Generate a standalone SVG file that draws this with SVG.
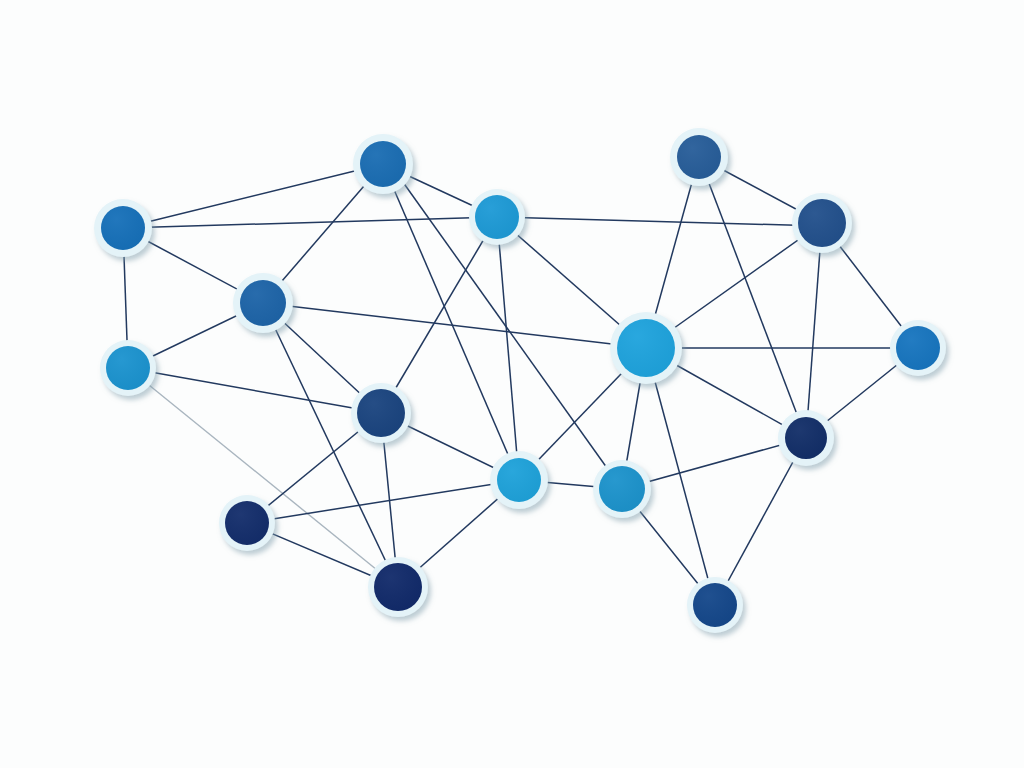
<svg xmlns="http://www.w3.org/2000/svg" width="1024" height="768" viewBox="0 0 1024 768">
<defs>
<filter id="sh" x="-50%" y="-50%" width="200%" height="200%">
<feDropShadow dx="3" dy="4" stdDeviation="2.5" flood-color="#7f9cab" flood-opacity="0.5"/>
</filter>
<radialGradient id="gl" cx="0.35" cy="0.3" r="0.8">
<stop offset="0" stop-color="#ffffff" stop-opacity="0.05"/>
<stop offset="1" stop-color="#000000" stop-opacity="0.04"/>
</radialGradient>
</defs>
<style>
.e{stroke:#22395f;stroke-width:1.5;fill:none}
.lt{stroke:#a9b5bf;stroke-width:1.4}
.halo{fill:#e4f3f8;filter:url(#sh)}
.gl{fill:url(#gl)}
</style>
<rect width="1024" height="768" fill="#fcfdfd"/>
<g id="connectors">
<line class="e" x1="383" y1="164" x2="123" y2="228"/>
<line class="e" x1="123" y1="228" x2="497" y2="217"/>
<line class="e" x1="383" y1="164" x2="497" y2="217"/>
<line class="e" x1="383" y1="164" x2="263" y2="303"/>
<line class="e" x1="383" y1="164" x2="519" y2="480"/>
<line class="e" x1="390" y1="164" x2="622" y2="489"/>
<line class="e" x1="123" y1="228" x2="263" y2="303"/>
<line class="e" x1="123" y1="228" x2="128" y2="368"/>
<line class="e" x1="497" y1="217" x2="822" y2="226"/>
<line class="e" x1="497" y1="217" x2="646" y2="348"/>
<line class="e" x1="497" y1="217" x2="381" y2="413"/>
<line class="e" x1="497" y1="217" x2="519" y2="480"/>
<line class="e" x1="699" y1="157" x2="822" y2="223"/>
<line class="e" x1="699" y1="157" x2="646" y2="348"/>
<line class="e" x1="699" y1="157" x2="806" y2="438"/>
<line class="e" x1="822" y1="223" x2="646" y2="348"/>
<line class="e" x1="822" y1="223" x2="918" y2="348"/>
<line class="e" x1="822" y1="223" x2="806" y2="438"/>
<line class="e" x1="263" y1="303" x2="646" y2="348"/>
<line class="e" x1="263" y1="303" x2="128" y2="368"/>
<line class="e" x1="263" y1="303" x2="381" y2="413"/>
<line class="e" x1="263" y1="303" x2="398" y2="587"/>
<line class="e" x1="128" y1="368" x2="381" y2="413"/>
<line class="e lt" x1="128" y1="368" x2="398" y2="587"/>
<line class="e" x1="646" y1="348" x2="918" y2="348"/>
<line class="e" x1="646" y1="348" x2="806" y2="438"/>
<line class="e" x1="646" y1="348" x2="519" y2="480"/>
<line class="e" x1="646" y1="348" x2="622" y2="489"/>
<line class="e" x1="646" y1="348" x2="715" y2="605"/>
<line class="e" x1="918" y1="348" x2="806" y2="438"/>
<line class="e" x1="806" y1="438" x2="622" y2="489"/>
<line class="e" x1="806" y1="438" x2="715" y2="605"/>
<line class="e" x1="381" y1="413" x2="519" y2="480"/>
<line class="e" x1="381" y1="413" x2="247" y2="523"/>
<line class="e" x1="381" y1="413" x2="398" y2="587"/>
<line class="e" x1="519" y1="480" x2="622" y2="489"/>
<line class="e" x1="519" y1="480" x2="247" y2="523"/>
<line class="e" x1="519" y1="480" x2="398" y2="587"/>
<line class="e" x1="622" y1="489" x2="715" y2="605"/>
<line class="e" x1="247" y1="523" x2="398" y2="587"/>
</g>
<g id="n1"><circle class="halo" cx="383" cy="164" r="30"/><circle cx="383" cy="164" r="23" fill="#1a6db3"/><circle class="gl" cx="383" cy="164" r="23"/></g>
<g id="n2"><circle class="halo" cx="123" cy="228" r="29"/><circle cx="123" cy="228" r="22" fill="#1670b9"/><circle class="gl" cx="123" cy="228" r="22"/></g>
<g id="n3"><circle class="halo" cx="497" cy="217" r="28"/><circle cx="497" cy="217" r="22" fill="#1d9ad6"/><circle class="gl" cx="497" cy="217" r="22"/></g>
<g id="n4"><circle class="halo" cx="699" cy="157" r="29"/><circle cx="699" cy="157" r="22" fill="#275d99"/><circle class="gl" cx="699" cy="157" r="22"/></g>
<g id="n5"><circle class="halo" cx="822" cy="223" r="30"/><circle cx="822" cy="223" r="24" fill="#22508c"/><circle class="gl" cx="822" cy="223" r="24"/></g>
<g id="n6"><circle class="halo" cx="263" cy="303" r="30"/><circle cx="263" cy="303" r="23" fill="#1d64a8"/><circle class="gl" cx="263" cy="303" r="23"/></g>
<g id="n7"><circle class="halo" cx="128" cy="368" r="28"/><circle cx="128" cy="368" r="22" fill="#1b93cf"/><circle class="gl" cx="128" cy="368" r="22"/></g>
<g id="n8"><circle class="halo" cx="646" cy="348" r="36"/><circle cx="646" cy="348" r="29" fill="#1ea3dd"/><circle class="gl" cx="646" cy="348" r="29"/></g>
<g id="n9"><circle class="halo" cx="918" cy="348" r="28"/><circle cx="918" cy="348" r="22" fill="#1775bf"/><circle class="gl" cx="918" cy="348" r="22"/></g>
<g id="n10"><circle class="halo" cx="381" cy="413" r="30"/><circle cx="381" cy="413" r="24" fill="#1a447f"/><circle class="gl" cx="381" cy="413" r="24"/></g>
<g id="n11"><circle class="halo" cx="806" cy="438" r="28"/><circle cx="806" cy="438" r="21" fill="#122e68"/><circle class="gl" cx="806" cy="438" r="21"/></g>
<g id="n12"><circle class="halo" cx="519" cy="480" r="29"/><circle cx="519" cy="480" r="22" fill="#1ea2da"/><circle class="gl" cx="519" cy="480" r="22"/></g>
<g id="n13"><circle class="halo" cx="622" cy="489" r="29"/><circle cx="622" cy="489" r="23" fill="#1c93cc"/><circle class="gl" cx="622" cy="489" r="23"/></g>
<g id="n14"><circle class="halo" cx="247" cy="523" r="28"/><circle cx="247" cy="523" r="22" fill="#132d6b"/><circle class="gl" cx="247" cy="523" r="22"/></g>
<g id="n15"><circle class="halo" cx="398" cy="587" r="30"/><circle cx="398" cy="587" r="24" fill="#112a6a"/><circle class="gl" cx="398" cy="587" r="24"/></g>
<g id="n16"><circle class="halo" cx="715" cy="605" r="28"/><circle cx="715" cy="605" r="22" fill="#14478a"/><circle class="gl" cx="715" cy="605" r="22"/></g>
</svg>
